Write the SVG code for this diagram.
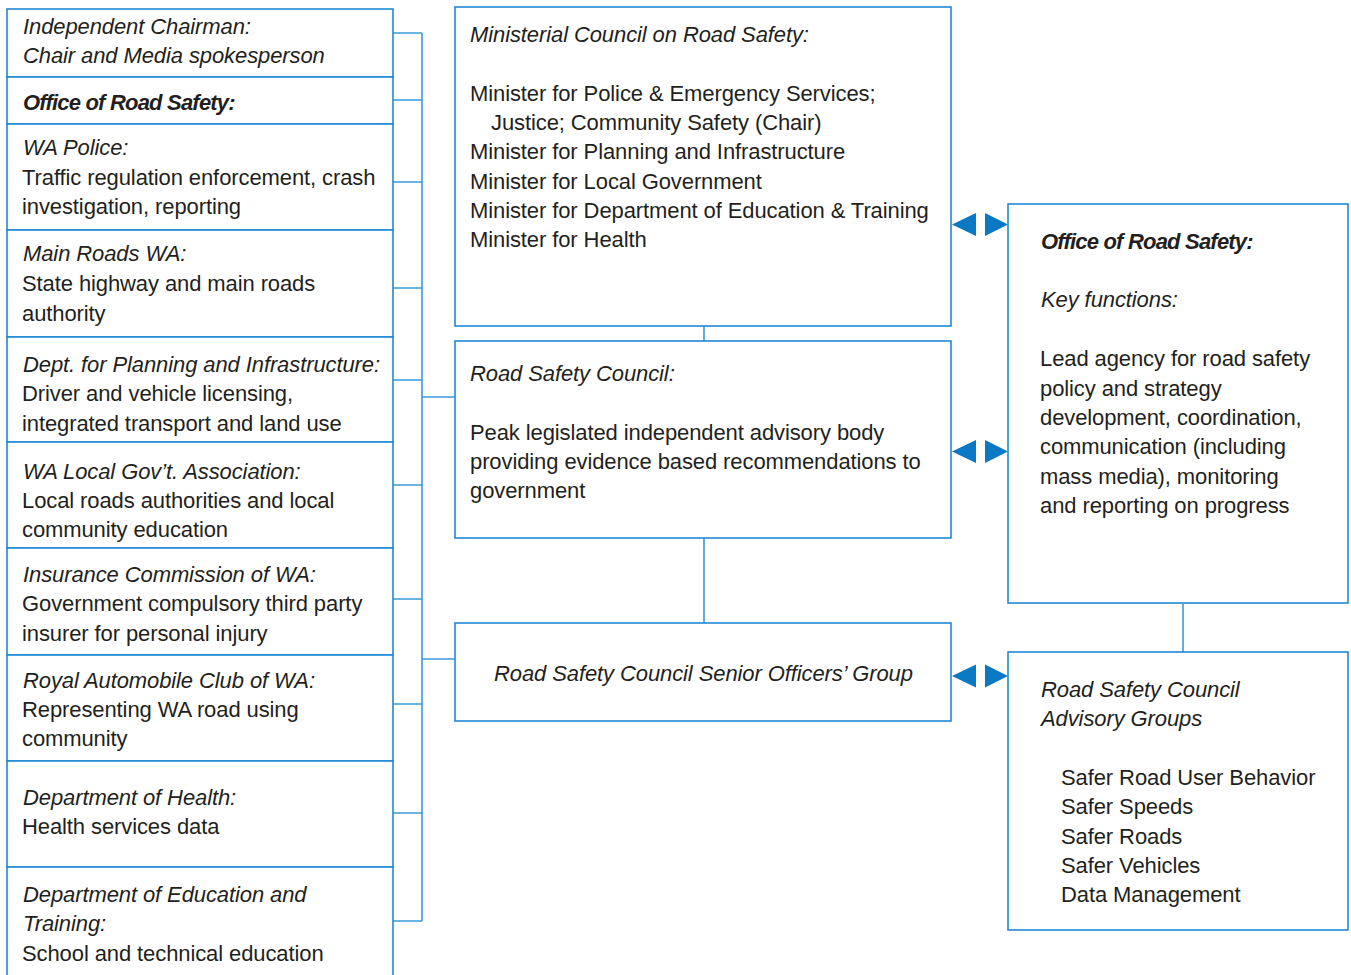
<svg xmlns="http://www.w3.org/2000/svg" width="1351" height="975" viewBox="0 0 1351 975">
<style>
text{font-family:"Liberation Sans",Arial,sans-serif;font-size:22px;fill:#231f20;letter-spacing:-0.1px}
.i{font-style:italic}
.b{font-weight:bold;font-style:italic;letter-spacing:-0.8px}
.box{fill:#fff;stroke:#2089d4;stroke-width:1.6}
.ln{fill:none;stroke:#3b9ad9;stroke-width:1.6}
.ar{fill:#0a78c2}
</style>
<rect width="1351" height="975" fill="#fff"/>
<g id="connectors">
<path class="ln" d="M422 33V921M393 33H422M393 100H422M393 182H422M393 288H422M393 380H422M393 485H422M393 599H422M393 704H422M393 813H422M393 921H422M422 397H455M422 659H455"/>
<path class="ln" d="M704 326V341M704 538V623M1183 604V652"/>
<polygon class="ar" points="952,224.5 976,213 976,236"/>
<polygon class="ar" points="1008,224.5 985,213 985,236"/>
<polygon class="ar" points="952,451.5 976,440 976,463"/>
<polygon class="ar" points="1008,451.5 985,440 985,463"/>
<polygon class="ar" points="952,676 976,664.5 976,687.5"/>
<polygon class="ar" points="1008,676 985,664.5 985,687.5"/>
</g>
<g id="n-chairman"><rect class="box" x="7" y="9" width="386" height="68"/>
<text class="i" x="23" y="34">Independent Chairman:</text><text class="i" x="23" y="63">Chair and Media spokesperson</text></g>
<g id="n-ors-left"><rect class="box" x="7" y="77" width="386" height="47"/>
<text class="b" x="23" y="110">Office of Road Safety:</text></g>
<g id="n-police"><rect class="box" x="7" y="124" width="386" height="106"/>
<text class="i" x="23" y="155">WA Police:</text><text x="22" y="185">Traffic regulation enforcement, crash</text><text x="22" y="214">investigation, reporting</text></g>
<g id="n-mainroads"><rect class="box" x="7" y="230" width="386" height="107"/>
<text class="i" x="23" y="261">Main Roads WA:</text><text x="22" y="291">State highway and main roads</text><text x="22" y="321">authority</text></g>
<g id="n-dpi"><rect class="box" x="7" y="337" width="386" height="105"/>
<text class="i" x="23" y="372">Dept. for Planning and Infrastructure:</text><text x="22" y="401">Driver and vehicle licensing,</text><text x="22" y="431">integrated transport and land use</text></g>
<g id="n-walga"><rect class="box" x="7" y="442" width="386" height="106"/>
<text class="i" x="23" y="479">WA Local Gov’t. Association:</text><text x="22" y="508">Local roads authorities and local</text><text x="22" y="537">community education</text></g>
<g id="n-icwa"><rect class="box" x="7" y="548" width="386" height="107"/>
<text class="i" x="23" y="582">Insurance Commission of WA:</text><text x="22" y="611">Government compulsory third party</text><text x="22" y="641">insurer for personal injury</text></g>
<g id="n-racwa"><rect class="box" x="7" y="655" width="386" height="106"/>
<text class="i" x="23" y="688">Royal Automobile Club of WA:</text><text x="22" y="717">Representing WA road using</text><text x="22" y="746">community</text></g>
<g id="n-health"><rect class="box" x="7" y="761" width="386" height="106"/>
<text class="i" x="23" y="805">Department of Health:</text><text x="22" y="834">Health services data</text></g>
<g id="n-education"><rect class="box" x="7" y="867" width="386" height="120"/>
<text class="i" x="23" y="902">Department of Education and</text><text class="i" x="23" y="931">Training:</text><text x="22" y="961">School and technical education</text></g>
<g id="n-ministerial"><rect class="box" x="455" y="7" width="496" height="319"/>
<text class="i" x="470" y="42">Ministerial Council on Road Safety:</text>
<text x="470" y="101">Minister for Police &amp; Emergency Services;</text>
<text x="491" y="130">Justice; Community Safety (Chair)</text>
<text x="470" y="159">Minister for Planning and Infrastructure</text>
<text x="470" y="189">Minister for Local Government</text>
<text x="470" y="218">Minister for Department of Education &amp; Training</text>
<text x="470" y="247">Minister for Health</text></g>
<g id="n-rsc"><rect class="box" x="455" y="341" width="496" height="197"/>
<text class="i" x="470" y="381">Road Safety Council:</text>
<text x="470" y="440">Peak legislated independent advisory body</text>
<text x="470" y="469">providing evidence based recommendations to</text>
<text x="470" y="498">government</text></g>
<g id="n-sog"><rect class="box" x="455" y="623" width="496" height="98"/>
<text class="i" x="494" y="681">Road Safety Council Senior Officers’ Group</text></g>
<g id="n-ors-right"><rect class="box" x="1008" y="204" width="340" height="399"/>
<text class="b" x="1041" y="249">Office of Road Safety:</text>
<text class="i" x="1041" y="307">Key functions:</text>
<text x="1040" y="366">Lead agency for road safety</text>
<text x="1040" y="396">policy and strategy</text>
<text x="1040" y="425">development, coordination,</text>
<text x="1040" y="454">communication (including</text>
<text x="1040" y="484">mass media), monitoring</text>
<text x="1040" y="513">and reporting on progress</text></g>
<g id="n-advisory"><rect class="box" x="1008" y="652" width="340" height="278"/>
<text class="i" x="1041" y="697">Road Safety Council</text>
<text class="i" x="1041" y="726">Advisory Groups</text>
<text x="1061" y="785">Safer Road User Behavior</text>
<text x="1061" y="814">Safer Speeds</text>
<text x="1061" y="844">Safer Roads</text>
<text x="1061" y="873">Safer Vehicles</text>
<text x="1061" y="902">Data Management</text></g>
</svg>
